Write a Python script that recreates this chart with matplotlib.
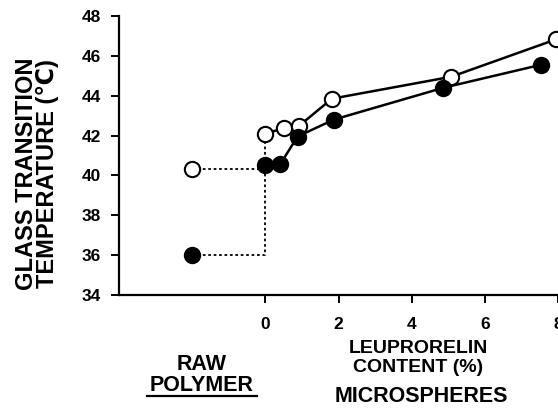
import matplotlib
matplotlib.use("Agg")
import matplotlib.pyplot as plt
from matplotlib.lines import Line2D

plt.rcParams['font.family'] = ['Liberation Sans', 'DejaVu Sans']
plt.rcParams['font.weight'] = 'bold'

# Raw polymer (plotted at x = -2)
raw_x = -2
raw_open = 40.3
raw_filled = 36.0

# Microspheres
open_x = [0.0, 0.5, 0.93, 1.82, 5.08, 7.95]
open_y = [42.1, 42.36, 42.5, 43.85, 44.95, 46.83]
filled_x = [0.0, 0.41, 0.88, 1.87, 4.87, 7.53]
filled_y = [40.5, 40.57, 41.95, 42.8, 44.4, 45.55]

yticks = [34, 36, 38, 40, 42, 44, 46, 48]
xticks = [0, 2, 4, 6, 8]

W, H = 558, 409
fig = plt.figure(figsize=(W/100, H/100), dpi=100)
ax = fig.add_axes([119/W, 1-295/H, (558-119)/W, (295-16)/H])
ax.set_xlim(-4, 8)
ax.set_ylim(34, 48)

# dotted connectors
ax.plot([raw_x, 0], [raw_open, raw_open], ls=(0, (1.5, 1.5)), color='black', lw=1.3)
ax.plot([raw_x, 0, 0], [raw_filled, raw_filled, open_y[0]], ls=(0, (1.5, 1.5)), color='black', lw=1.3)

ax.plot(open_x, open_y, '-o', color='black', lw=1.8, ms=11, mfc='white', mec='black', mew=1.5, clip_on=False, zorder=3)
ax.plot(filled_x, filled_y, '-o', color='black', lw=1.8, ms=11, mfc='black', mec='black', mew=1.5, clip_on=False, zorder=4)
ax.plot([raw_x], [raw_open], 'o', ms=11, mfc='white', mec='black', mew=1.5, zorder=3)
ax.plot([raw_x], [raw_filled], 'o', ms=11, mfc='black', mec='black', mew=1.5, zorder=3)

for s in ['top', 'right']:
    ax.spines[s].set_visible(False)
for s in ['left', 'bottom']:
    ax.spines[s].set_linewidth(1.6)

ax.set_yticks(yticks)
ax.set_yticklabels([str(v) for v in yticks], fontsize=12.5, fontweight='bold')
ax.set_xticks(xticks)
ax.set_xticklabels([str(v) for v in xticks], fontsize=12.5, fontweight='bold')
ax.tick_params(axis='both', direction='out', length=6, width=1.4)
ax.tick_params(axis='x', pad=10)
ax.tick_params(axis='y', pad=7)

fig.text(37/W, 1-174/H, "GLASS TRANSITION\nTEMPERATURE (\u2103)", rotation=90,
         ha='center', va='center', fontsize=17, fontweight='bold', linespacing=0.9)

fig.text(418/W, 1-358/H, "LEUPRORELIN\nCONTENT (%)", ha='center', va='center',
         fontsize=14, fontweight='bold', linespacing=1.1)
fig.text(421/W, 1-396/H, "MICROSPHERES", ha='center', va='center',
         fontsize=15.5, fontweight='bold')
fig.text(202/W, 1-375/H, "RAW\nPOLYMER", ha='center', va='center',
         fontsize=15.5, fontweight='bold', linespacing=1.0)
fig.add_artist(Line2D([147/W, 257/W], [1-396/H, 1-396/H], color='black', lw=1.6))

fig.savefig("out.png", dpi=100)
